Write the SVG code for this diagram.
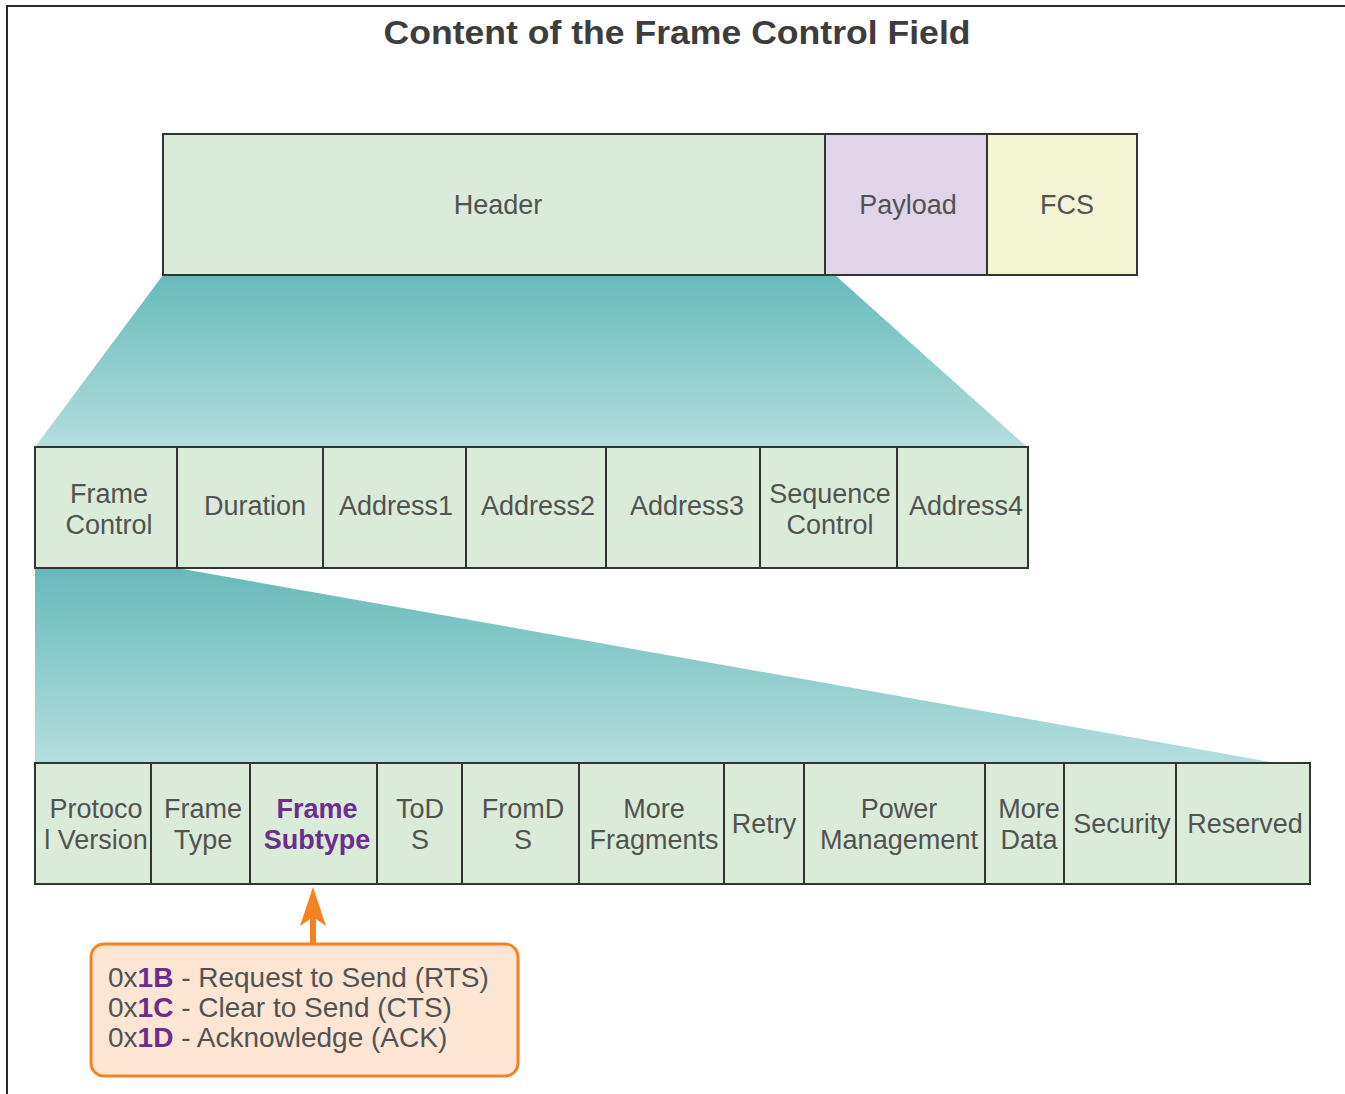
<svg xmlns="http://www.w3.org/2000/svg" width="1345" height="1094" viewBox="0 0 1345 1094">
  <style>
    .cell { stroke: #333; stroke-width: 2; }
    .hdr { fill: #dbebd9; }
    .pay { fill: #e0d5e8; }
    .fcs { fill: #f3f4d4; }
    .lbl { font-family: "Liberation Sans", Arial, sans-serif; font-size: 27px; fill: #525252; text-anchor: middle; }
    .hi { fill: #6b2d8f; font-weight: bold; }
    .title { font-family: "Liberation Sans", Arial, sans-serif; font-size: 33px; font-weight: bold; fill: #3d3d3d; text-anchor: middle; }
    .note { font-family: "Liberation Sans", Arial, sans-serif; font-size: 28px; fill: #525252; }
    .code { fill: #6b2d8f; font-weight: bold; }
  </style>
  <defs>
    <linearGradient id="zoomFill" x1="0" y1="0" x2="0" y2="1">
      <stop offset="0" stop-color="#67baba"/>
      <stop offset="1" stop-color="#b4dede"/>
    </linearGradient>
  </defs>

  <rect width="1345" height="1094" fill="#fff"/>
  <!-- outer frame: top and left edges -->
  <path d="M7 1094 V6 H1345" fill="none" stroke="#2a2a2a" stroke-width="2"/>

  <text class="title" x="677" y="44" textLength="587" lengthAdjust="spacingAndGlyphs">Content of the Frame Control Field</text>

  <!-- expansion wedges -->
  <g id="connectors">
    <polygon points="163,275 835,275 1027,447 35,447" fill="url(#zoomFill)"/>
    <polygon points="35,568 177,568 1276,763 35,763" fill="url(#zoomFill)"/>
    <g id="subtype-arrow" fill="#f58220">
      <rect x="310" y="905" width="6" height="40"/>
      <path d="M313 887 L326 926 L313 917 L300 926 Z"/>
    </g>
  </g>

  <!-- 802.11 frame -->
  <g id="frame">
    <g id="header"><rect class="cell hdr" x="163" y="134" width="662" height="141"/><text class="lbl" x="498" y="214">Header</text></g>
    <g id="payload"><rect class="cell pay" x="825" y="134" width="162" height="141"/><text class="lbl" x="908" y="214">Payload</text></g>
    <g id="fcs"><rect class="cell fcs" x="987" y="134" width="150" height="141"/><text class="lbl" x="1067" y="214">FCS</text></g>
  </g>

  <!-- MAC header fields -->
  <g id="mac-header">
    <g id="frame-control"><rect class="cell hdr" x="35" y="447" width="142" height="121"/><text class="lbl" x="109" y="503">Frame</text><text class="lbl" x="109" y="534">Control</text></g>
    <g id="duration"><rect class="cell hdr" x="177" y="447" width="146" height="121"/><text class="lbl" x="255" y="515">Duration</text></g>
    <g id="address1"><rect class="cell hdr" x="323" y="447" width="143" height="121"/><text class="lbl" x="396" y="515">Address1</text></g>
    <g id="address2"><rect class="cell hdr" x="466" y="447" width="140" height="121"/><text class="lbl" x="538" y="515">Address2</text></g>
    <g id="address3"><rect class="cell hdr" x="606" y="447" width="154" height="121"/><text class="lbl" x="687" y="515">Address3</text></g>
    <g id="sequence-control"><rect class="cell hdr" x="760" y="447" width="137" height="121"/><text class="lbl" x="830" y="503">Sequence</text><text class="lbl" x="830" y="534">Control</text></g>
    <g id="address4"><rect class="cell hdr" x="897" y="447" width="131" height="121"/><text class="lbl" x="966" y="515">Address4</text></g>
  </g>

  <!-- Frame Control sub-fields -->
  <g id="frame-control-fields">
    <g id="protocol-version"><rect class="cell hdr" x="35" y="763" width="116" height="121"/><text class="lbl" x="96" y="818">Protoco</text><text class="lbl" x="96" y="849">l Version</text></g>
    <g id="frame-type"><rect class="cell hdr" x="151" y="763" width="99" height="121"/><text class="lbl" x="203" y="818">Frame</text><text class="lbl" x="203" y="849">Type</text></g>
    <g id="frame-subtype"><rect class="cell hdr" x="250" y="763" width="127" height="121"/><text class="lbl hi" x="317" y="818">Frame</text><text class="lbl hi" x="317" y="849">Subtype</text></g>
    <g id="tods"><rect class="cell hdr" x="377" y="763" width="85" height="121"/><text class="lbl" x="420" y="818">ToD</text><text class="lbl" x="420" y="849">S</text></g>
    <g id="fromds"><rect class="cell hdr" x="462" y="763" width="117" height="121"/><text class="lbl" x="523" y="818">FromD</text><text class="lbl" x="523" y="849">S</text></g>
    <g id="more-fragments"><rect class="cell hdr" x="579" y="763" width="145" height="121"/><text class="lbl" x="654" y="818">More</text><text class="lbl" x="654" y="849" textLength="129" lengthAdjust="spacingAndGlyphs">Fragments</text></g>
    <g id="retry"><rect class="cell hdr" x="724" y="763" width="80" height="121"/><text class="lbl" x="764" y="833">Retry</text></g>
    <g id="power-management"><rect class="cell hdr" x="804" y="763" width="181" height="121"/><text class="lbl" x="899" y="818">Power</text><text class="lbl" x="899" y="849" textLength="158" lengthAdjust="spacingAndGlyphs">Management</text></g>
    <g id="more-data"><rect class="cell hdr" x="985" y="763" width="79" height="121"/><text class="lbl" x="1029" y="818">More</text><text class="lbl" x="1029" y="849">Data</text></g>
    <g id="security"><rect class="cell hdr" x="1064" y="763" width="112" height="121"/><text class="lbl" x="1122" y="833">Security</text></g>
    <g id="reserved"><rect class="cell hdr" x="1176" y="763" width="134" height="121"/><text class="lbl" x="1245" y="833">Reserved</text></g>
  </g>

  <!-- subtype value callout -->
  <g id="subtype-values">
    <rect x="91" y="944" width="427" height="132" rx="13" fill="#fde5d3" stroke="#f58220" stroke-width="3"/>
    <text class="note" x="108" y="987">0x<tspan class="code">1B</tspan> - Request to Send (RTS)</text>
    <text class="note" x="108" y="1017">0x<tspan class="code">1C</tspan> - Clear to Send (CTS)</text>
    <text class="note" x="108" y="1047">0x<tspan class="code">1D</tspan> - Acknowledge (ACK)</text>
  </g>
</svg>
